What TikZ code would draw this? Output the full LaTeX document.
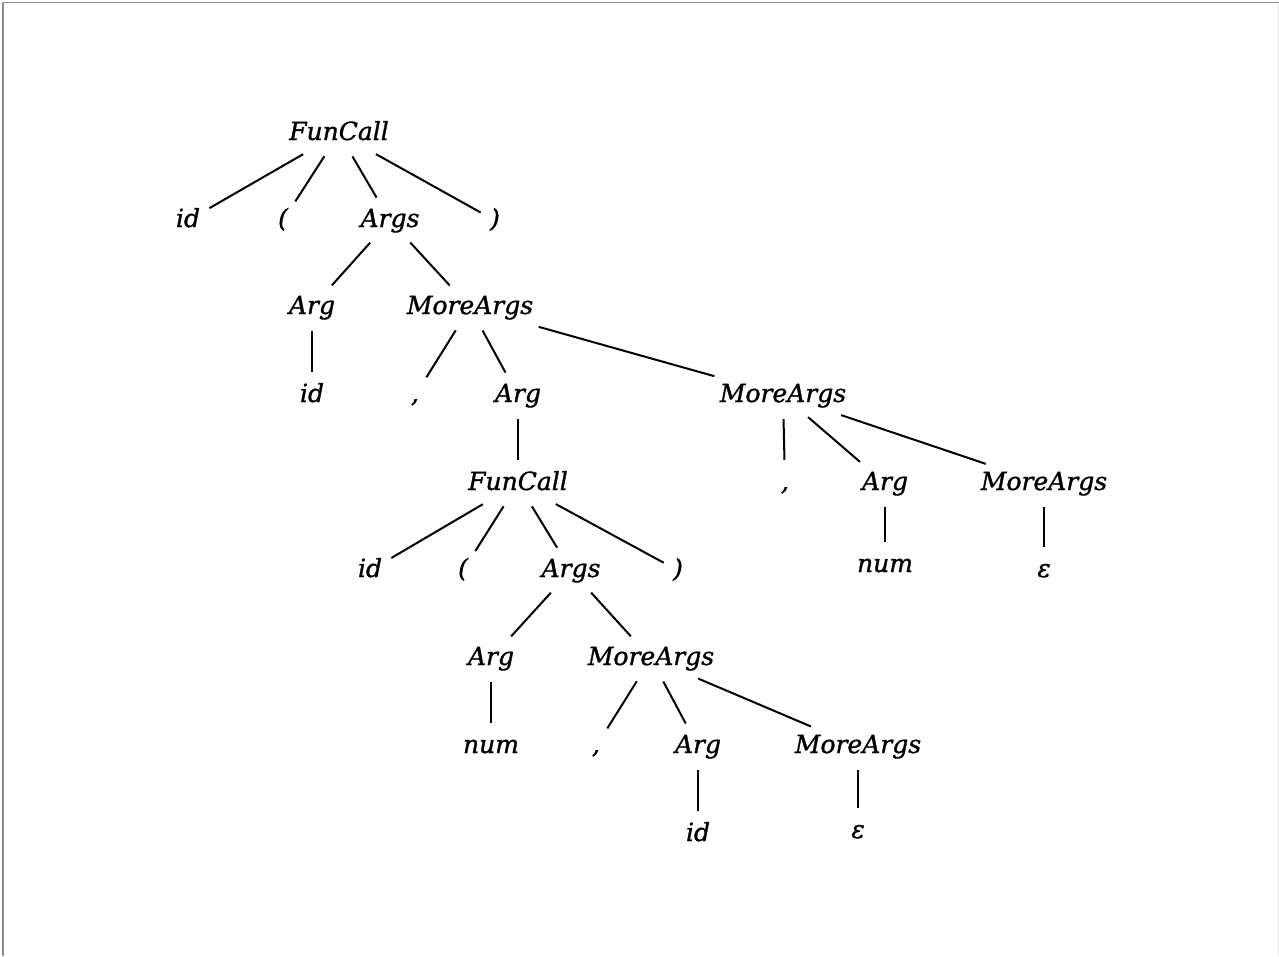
\documentclass[tikz,border=0pt]{standalone}
\usepackage{fontspec}
\setmainfont{DejaVu Serif}[ItalicFeatures={FakeBold=1.2}]
\begin{document}
\begin{tikzpicture}[x=1pt,y=-1pt,
  sym/.style={anchor=base,font=\fontsize{25}{30}\selectfont\itshape,inner xsep=4pt,inner ysep=5pt,text height=19pt,text depth=6pt},
  edge/.style={line width=2pt,shorten <=6pt,shorten >=6pt}]
\useasboundingbox (0,0) rectangle (1279,956);
\fill[white] (0,0) rectangle (1279,956);
\draw[gray!90,line width=1.2pt] (3,956) -- (3,2.5) -- (1279,2.5);
\draw[gray!20,line width=1pt] (1278,2.5) -- (1278,956);
% level 1
\node[sym] (fc1) at (339,140) {FunCall};
% level 2
\node[sym] (id1) at (188,227) {id};
\node[sym] (lp1) at (283,227) {(};
\node[sym] (args1) at (390,227) {Args};
\node[sym] (rp1) at (495,227) {)};
% level 3
\node[sym] (arg1) at (312,314) {Arg};
\node[sym] (ma1) at (470,314) {MoreArgs};
% level 4
\node[sym] (id2) at (312,402) {id};
\node[sym] (cm1) at (415,402) {,};
\node[sym] (arg2) at (518,402) {Arg};
\node[sym] (ma2) at (783,402) {MoreArgs};
% level 5
\node[sym] (fc2) at (518,490) {FunCall};
\node[sym] (cm2) at (785,490) {,};
\node[sym] (arg3) at (885,490) {Arg};
\node[sym] (ma3) at (1044,490) {MoreArgs};
% level 6
\node[sym] (id3) at (370,577) {id};
\node[sym] (lp2) at (463,577) {(};
\node[sym] (args2) at (571,577) {Args};
\node[sym] (rp2) at (678,577) {)};
\node[sym] (num1) at (885,572) {num};
\node[sym] (eps1) at (1044,577) {ε};
% level 7
\node[sym] (arg4) at (491,665) {Arg};
\node[sym] (ma4) at (651,665) {MoreArgs};
% level 8
\node[sym] (num2) at (491,753) {num};
\node[sym] (cm3) at (596,753) {,};
\node[sym] (arg5) at (698,753) {Arg};
\node[sym] (ma5) at (858,753) {MoreArgs};
% level 9
\node[sym] (id4) at (698,841) {id};
\node[sym] (eps2) at (858,838) {ε};
% edges
\foreach \a/\b in {fc1/id1,fc1/lp1,fc1/args1,fc1/rp1,
  args1/arg1,args1/ma1,arg1/id2,
  ma1/cm1,ma1/arg2,ma1/ma2,
  arg2/fc2,ma2/cm2,ma2/arg3,ma2/ma3,
  fc2/id3,fc2/lp2,fc2/args2,fc2/rp2,arg3/num1,ma3/eps1,
  args2/arg4,args2/ma4,arg4/num2,
  ma4/cm3,ma4/arg5,ma4/ma5,arg5/id4,ma5/eps2}
  \draw[edge] (\a) -- (\b);
\end{tikzpicture}
\end{document}
